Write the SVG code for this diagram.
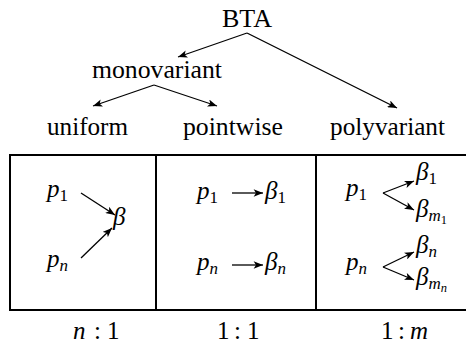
<svg xmlns="http://www.w3.org/2000/svg" width="466" height="345" viewBox="0 0 466 345">
<style>
text{font-size:25px;fill:#000}
.m{font-style:italic}
.s{font-size:17px}
.ss{font-size:12.5px}
.c line{stroke:#000;stroke-width:1.3;marker-end:url(#ah)}
.box{stroke:#000;stroke-width:2;fill:none}
</style>
<defs>
<marker id="ah" viewBox="0 0 10 8" refX="10" refY="4" markerWidth="10" markerHeight="7.5" orient="auto" markerUnits="userSpaceOnUse"><path d="M0,0 L10,4 L0,8 L2.5,4 z" fill="#000"/></marker>
</defs>
<g id="n-bta"><text style="font-family:'Liberation Serif',serif" x="222" y="27" textLength="50" lengthAdjust="spacingAndGlyphs">BTA</text></g>
<g id="n-mono"><text style="font-family:'Liberation Serif',serif" x="92" y="78" textLength="130" lengthAdjust="spacingAndGlyphs">monovariant</text></g>
<g id="n-uniform"><text style="font-family:'Liberation Serif',serif" x="47" y="135" textLength="81" lengthAdjust="spacingAndGlyphs">uniform</text></g>
<g id="n-pointwise"><text style="font-family:'Liberation Serif',serif" x="183" y="135" textLength="100" lengthAdjust="spacingAndGlyphs">pointwise</text></g>
<g id="n-poly"><text style="font-family:'Liberation Serif',serif" x="330" y="135" textLength="115" lengthAdjust="spacingAndGlyphs">polyvariant</text></g>
<g id="table">
<path class="box" d="M466,155 H10 V310 H466 M156,155 V310 M316,155 V310"/>
</g>
<g id="cell1">
<text style="font-family:'Liberation Serif',serif" x="47" y="197"><tspan class="m">p</tspan><tspan class="s" dy="4">1</tspan></text>
<text style="font-family:'Liberation Serif',serif" x="113" y="225" class="m">β</text>
<text style="font-family:'Liberation Serif',serif" x="47" y="267"><tspan class="m">p</tspan><tspan class="s m" dy="4">n</tspan></text>
</g>
<g id="cell2">
<text style="font-family:'Liberation Serif',serif" x="197" y="199"><tspan class="m">p</tspan><tspan class="s" dy="4">1</tspan></text>
<text style="font-family:'Liberation Serif',serif" x="265" y="199"><tspan class="m">β</tspan><tspan class="s" dy="4">1</tspan></text>
<text style="font-family:'Liberation Serif',serif" x="197" y="270"><tspan class="m">p</tspan><tspan class="s m" dy="4">n</tspan></text>
<text style="font-family:'Liberation Serif',serif" x="265" y="270"><tspan class="m">β</tspan><tspan class="s m" dy="4">n</tspan></text>
</g>
<g id="cell3">
<text style="font-family:'Liberation Serif',serif" x="346" y="196"><tspan class="m">p</tspan><tspan class="s" dy="4">1</tspan></text>
<text style="font-family:'Liberation Serif',serif" x="416" y="180"><tspan class="m">β</tspan><tspan class="s" dy="4">1</tspan></text>
<text style="font-family:'Liberation Serif',serif" x="416" y="217"><tspan class="m">β</tspan><tspan class="s m" dy="4">m</tspan><tspan class="ss" dy="3">1</tspan></text>
<text style="font-family:'Liberation Serif',serif" x="346" y="270"><tspan class="m">p</tspan><tspan class="s m" dy="4">n</tspan></text>
<text style="font-family:'Liberation Serif',serif" x="416" y="253"><tspan class="m">β</tspan><tspan class="s m" dy="4">n</tspan></text>
<text style="font-family:'Liberation Serif',serif" x="416" y="285"><tspan class="m">β</tspan><tspan class="s m" dy="4">m</tspan><tspan class="ss m" dy="3">n</tspan></text>
</g>
<g id="ratios">
<text style="font-family:'Liberation Serif',serif" x="73" y="339"><tspan class="m">n</tspan><tspan x="94">:</tspan><tspan x="107">1</tspan></text>
<text style="font-family:'Liberation Serif',serif" x="217" y="339">1<tspan x="234">:</tspan><tspan x="247">1</tspan></text>
<text style="font-family:'Liberation Serif',serif" x="381" y="339">1<tspan x="398">:</tspan><tspan x="410" class="m">m</tspan></text>
</g>
<g id="connectors" class="c">
<line x1="247" y1="33" x2="178" y2="57"/>
<line x1="247" y1="33" x2="397" y2="108"/>
<line x1="154" y1="85" x2="93" y2="106"/>
<line x1="154" y1="85" x2="217" y2="106"/>
<line x1="81" y1="193" x2="115" y2="215"/>
<line x1="81" y1="258" x2="112" y2="228"/>
<line x1="232" y1="193" x2="263" y2="193"/>
<line x1="232" y1="265" x2="263" y2="265"/>
<line x1="383" y1="193" x2="414" y2="181"/>
<line x1="383" y1="193" x2="414" y2="210"/>
<line x1="383" y1="267" x2="414" y2="252"/>
<line x1="383" y1="267" x2="414" y2="280"/>
</g>
</svg>
